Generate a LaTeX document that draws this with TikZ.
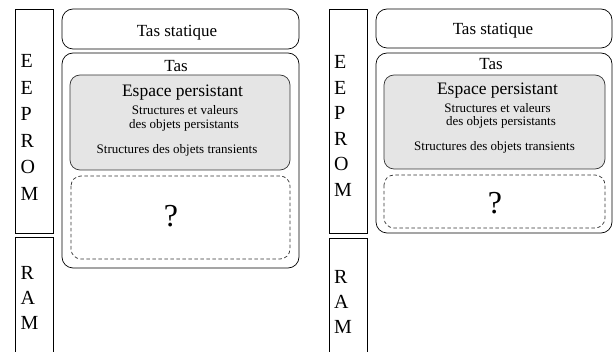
\documentclass[tikz,border=0pt]{standalone}
\usepackage{fontspec}
\setmainfont{Liberation Serif}
\begin{document}
\begin{tikzpicture}[x=1pt,y=-1pt,
  memrect/.style={draw=black,line width=0.7pt},
  rbox/.style={draw=black,line width=0.7pt,rounded corners=11pt},
  graybox/.style={draw=black!80,line width=0.7pt,fill=black!10,rounded corners=10pt},
  dashbox/.style={draw=black!80,line width=0.7pt,dash pattern=on 3.5pt off 2.5pt,rounded corners=10pt},
  memtxt/.style={inner sep=0pt,anchor=west,font=\fontsize{20}{24}\selectfont},
  bigtxt/.style={inner sep=0pt,anchor=base,font=\fontsize{17}{20}\selectfont},
  smalltxt/.style={inner sep=0pt,anchor=base,font=\fontsize{13}{15}\selectfont},
  qtxt/.style={inner sep=0pt,anchor=base,font=\fontsize{32}{36}\selectfont}]
\useasboundingbox (0,0) rectangle (613,352);
% ---------- left diagram ----------
\draw[memrect] (15,9) rectangle (53,233);
\draw[memrect] (15,237) rectangle (53,362);
\foreach \l [count=\i] in {E,E,P,R,O,M}
  \node[memtxt] (lE\i) at (20.5,{61+26.6*(\i-1)}) {\l};
\foreach \l [count=\i] in {R,A,M}
  \node[memtxt] (lR\i) at (20.5,{273+25*(\i-1)}) {\l};
\draw[rbox] (62,9) rectangle (299,49);
\draw[rbox] (62,53) rectangle (299,268);
\draw[graybox] (70,75) rectangle (290,170);
\draw[dashbox] (71,176) rectangle (290,259);
\node[bigtxt] (lts) at (177,36.5) {Tas statique};
\node[bigtxt] (ltas) at (176,71.5) {Tas};
\node[bigtxt,font=\fontsize{17.5}{20}\selectfont] (lesp) at (182.5,96.5) {Espace persistant};
\node[smalltxt] (lsv) at (185,115) {Structures et valeurs};
\node[smalltxt] (lop) at (184,129) {des objets persistants};
\node[smalltxt] (lot) at (177,154) {Structures des objets transients};
\node[qtxt] (lq) at (171,227) {?};
% ---------- right diagram ----------
\draw[memrect] (329,9) rectangle (367,233);
\draw[memrect] (329,238) rectangle (367,362);
\foreach \l [count=\i] in {E,E,P,R,O,M}
  \node[memtxt] (rE\i) at (334,{62+25.6*(\i-1)}) {\l};
\foreach \l [count=\i] in {R,A,M}
  \node[memtxt] (rR\i) at (334,{277+25*(\i-1)}) {\l};
\draw[rbox] (376,9) rectangle (612,48);
\draw[rbox] (376,53) rectangle (612,233);
\draw[graybox] (384,75) rectangle (605,169);
\draw[dashbox] (384,175) rectangle (605,228);
\node[bigtxt] (rts) at (493,35) {Tas statique};
\node[bigtxt] (rtas) at (491,70) {Tas};
\node[bigtxt,font=\fontsize{17.5}{20}\selectfont] (resp) at (497.5,95) {Espace persistant};
\node[smalltxt] (rsv) at (497.5,113) {Structures et valeurs};
\node[smalltxt] (rop) at (501,126) {des objets persistants};
\node[smalltxt] (rot) at (494.5,150.5) {Structures des objets transients};
\node[qtxt] (rq) at (495,214) {?};
\end{tikzpicture}
\end{document}
